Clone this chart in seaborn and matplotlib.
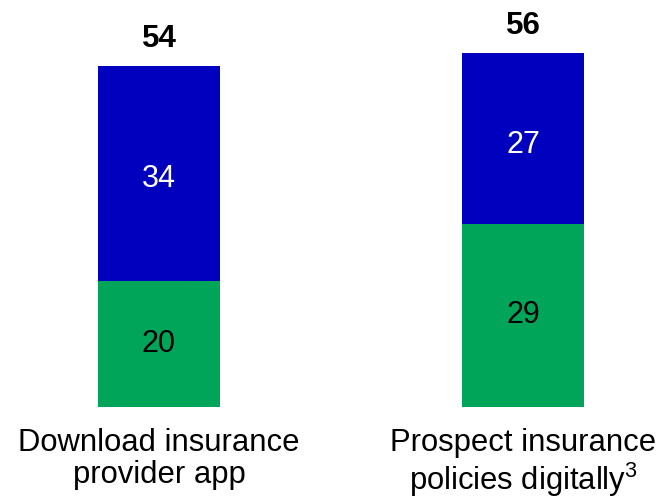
import matplotlib
matplotlib.use("Agg")
import matplotlib.pyplot as plt
import seaborn as sns
import pandas as pd

categories = ["Download insurance\nprovider app", "Prospect insurance\npolicies digitally$^3$"]
green_vals = [20, 29]
blue_vals = [34, 27]
totals = [g + b for g, b in zip(green_vals, blue_vals)]

BLUE = "#0000BE"
GREEN = "#00A55A"

sns.set_theme(style="white")
plt.rcParams["font.family"] = ["Liberation Sans", "DejaVu Sans"]
plt.rcParams["mathtext.fontset"] = "custom"
plt.rcParams["mathtext.rm"] = "Liberation Sans"
plt.rcParams["mathtext.it"] = "Liberation Sans"

df = pd.DataFrame({"cat": categories, "green": green_vals, "blue": blue_vals, "total": totals})

fig = plt.figure(figsize=(6.71, 5.0), dpi=100)
ax = fig.add_axes([0, 0.186, 1, 0.814])

sns.barplot(data=df, x="cat", y="total", color=BLUE, width=0.333, ax=ax,
            saturation=1, linewidth=0, edgecolor="none")
sns.barplot(data=df, x="cat", y="green", color=GREEN, width=0.333, ax=ax,
            saturation=1, linewidth=0, edgecolor="none")

ax.set_xlim(-0.4368, 1.4066)
ax.set_ylim(0, 64.4)

for i, (g, b, t) in enumerate(zip(green_vals, blue_vals, totals)):
    ax.text(i, g / 2, f"{g}", ha="center", va="center", fontsize=22, color="black")
    ax.text(i, g + b / 2 - 1.0, f"{b}", ha="center", va="center", fontsize=22, color="white")
    ax.text(i, t + 1.9, f"{t}", ha="center", va="bottom", fontsize=22.5, fontweight="bold", color="black")

ax.set_xlabel("")
ax.set_ylabel("")
ax.set_yticks([])
ax.tick_params(axis="x", length=0, pad=15, labelsize=22.3, colors="black")
for lab in ax.get_xticklabels():
    lab.set_linespacing(1.1)
for s in ax.spines.values():
    s.set_visible(False)

fig.savefig("out.png", dpi=100)
